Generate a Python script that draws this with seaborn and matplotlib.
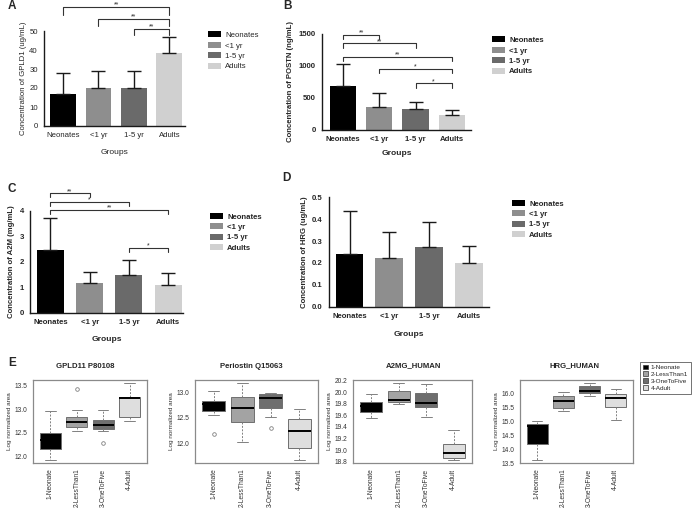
import numpy as np
import pandas as pd
import matplotlib
matplotlib.use('Agg')
import matplotlib.pyplot as plt
import seaborn as sns
from matplotlib.patches import Patch

# ---------------- data ----------------
groups = ['Neonates', '<1 yr', '1-5 yr', 'Adults']
bar_colors = ['#000000', '#8e8e8e', '#6a6a6a', '#d0d0d0']

gpld1_mean = [17.0, 20.0, 20.0, 38.2]
gpld1_sd = [10.7, 8.9, 9.0, 8.6]
postn_mean = [687, 354, 323, 230]
postn_sd = [339, 219, 109, 82]
a2m_mean = [2.47, 1.15, 1.47, 1.09]
a2m_sd = [1.26, 0.44, 0.61, 0.45]
hrg_mean = [0.243, 0.221, 0.271, 0.202]
hrg_sd = [0.196, 0.119, 0.118, 0.077]

box_labels = ['1-Neonate', '2-LessThan1', '3-OneToFive', '4-Adult']
box_colors = ['#000000', '#a3a3a3', '#6e6e6e', '#dedede']

gpld11_lo = [11.93, 12.55, 12.55, 12.76]
gpld11_q1 = [12.17, 12.63, 12.58, 12.84]
gpld11_med = [12.35, 12.72, 12.66, 13.23]
gpld11_q3 = [12.50, 12.84, 12.78, 13.25]
gpld11_hi = [12.96, 12.98, 12.98, 13.55]
gpld11_out = [[], [13.43], [12.29], []]

postn_lo = [12.56, 12.02, 12.51, 11.67]
postn_q1 = [12.64, 12.41, 12.69, 11.91]
postn_med = [12.76, 12.70, 12.89, 12.23]
postn_q3 = [12.83, 12.91, 12.96, 12.47]
postn_hi = [13.03, 13.18, 12.98, 12.67]
postn_out = [[12.17], [], [12.29], []]

a2mg_lo = [19.56, 19.80, 19.57, 18.83]
a2mg_q1 = [19.66, 19.84, 19.74, 18.86]
a2mg_med = [19.77, 19.87, 19.82, 18.95]
a2mg_q3 = [19.83, 20.02, 19.99, 19.10]
a2mg_hi = [19.97, 20.16, 20.14, 19.34]
a2mg_out = [[], [], [], []]

hrgh_lo = [13.62, 15.37, 15.90, 15.06]
hrgh_q1 = [14.17, 15.47, 16.02, 15.53]
hrgh_med = [14.85, 15.72, 16.10, 15.85]
hrgh_q3 = [14.90, 15.90, 16.28, 15.97]
hrgh_hi = [15.00, 16.06, 16.38, 16.16]
hrgh_out = [[], [], [], []]

# ---------------- figure ----------------
sns.set_style('white')
plt.rcParams['font.family'] = ['Liberation Sans', 'DejaVu Sans']
W, H = 696, 511
fig = plt.figure(figsize=(W / 100, H / 100), dpi=100)


def add_ax(l, r, t, b):
    return fig.add_axes([l / W, 1 - b / H, (r - l) / W, (b - t) / H])


FS = 5.6


def bar_panel(ax, means, sds, ylim, yticks, ylabel, xlim, width, bold, brackets, leg_xy,
              xlabelpad, ylabelpad):
    weight = 'bold' if bold else 'normal'
    df = pd.DataFrame({'group': groups, 'value': means})
    sns.barplot(data=df, x='group', y='value', hue='group', order=groups, hue_order=groups,
                palette=bar_colors, saturation=1, width=width, errorbar=None, legend=False,
                ax=ax, linewidth=0)
    ax.errorbar(np.arange(len(groups)), means, yerr=[np.zeros(len(groups)), sds], fmt='none',
                ecolor='#1a1a1a', elinewidth=1.0, capsize=5, capthick=1.0, zorder=3)
    ax.set_ylim(*ylim)
    ax.set_xlim(*xlim)
    ax.set_yticks(yticks)
    sns.despine(ax=ax)
    for s in ['left', 'bottom']:
        ax.spines[s].set_linewidth(1.0)
        ax.spines[s].set_color('#1a1a1a')
    ax.tick_params(axis='both', direction='out', length=3, width=0.9, color='#1a1a1a',
                   labelsize=FS, pad=1.5)
    for lab in ax.get_xticklabels() + ax.get_yticklabels():
        lab.set_fontweight(weight)
    ax.set_ylabel(ylabel, fontsize=FS, fontweight=weight, labelpad=ylabelpad)
    ax.set_xlabel('Groups', fontsize=FS + 0.5, fontweight=weight, labelpad=xlabelpad)
    for (x1, x2, y, drop, lab) in brackets:
        ax.plot([x1, x1, x2, x2], [y - drop, y, y, y - drop], color='#333333', lw=0.8,
                clip_on=False, zorder=4)
        ax.annotate(lab, xy=((x1 + x2) / 2, y), xytext=(0, -1.2), textcoords='offset points',
                    ha='center', va='bottom', fontsize=FS - 0.6, annotation_clip=False)
    handles = [Patch(facecolor=c, edgecolor='none') for c in bar_colors]
    fig.legend(handles, groups, loc='upper left', bbox_to_anchor=(leg_xy[0] / W, 1 - leg_xy[1] / H),
               frameon=False, prop={'size': FS, 'weight': weight}, handlelength=1.7,
               handleheight=0.8, handletextpad=0.5, labelspacing=0.35, borderpad=0,
               borderaxespad=0)


# Panel A
axA = add_ax(44, 185, 31, 126)
bar_panel(axA, gpld1_mean, gpld1_sd, (0, 50), [0, 10, 20, 30, 40, 50],
          'Concentration of GPLD1 (ug/mL)', (-0.535, 3.44), 0.73, False,
          [(0, 3, 62.6, 4.0, '**'), (1, 3, 56.3, 3.5, '**'), (2, 3, 51.2, 3.2, '**')],
          (208, 31.5), 7, 1.5)

# Panel B
axB = add_ax(322, 471, 34, 130)
bar_panel(axB, postn_mean, postn_sd, (0, 1500), [0, 500, 1000, 1500],
          'Concentration of POSTN (ng/mL)', (-0.58, 3.53), 0.72, True,
          [(0, 1, 1484, 67, '**'), (0, 2, 1354, 67, '**'), (0, 3, 1146, 67, '**'),
           (1, 3, 953, 67, '*'), (2, 3, 729, 75, '*')],
          (492, 36.5), 5, 3)

# Panel C
axC = add_ax(30, 183, 210.7, 312.7)
bar_panel(axC, a2m_mean, a2m_sd, (0, 4), [0, 1, 2, 3, 4],
          'Concentration of A2M (mg/mL)', (-0.52, 3.38), 0.69, True,
          [(0, 1, 4.68, 0.16, '**'), (0, 2, 4.35, 0.16, '*'), (0, 3, 4.03, 0.16, '**'),
           (2, 3, 2.53, 0.16, '*')],
          (210, 213), 7, 3)

# Panel D
axD = add_ax(329, 489, 197.3, 306.7)
bar_panel(axD, hrg_mean, hrg_sd, (0, 0.5), [0.0, 0.1, 0.2, 0.3, 0.4, 0.5],
          'Concentration of HRG (ug/mL)', (-0.515, 3.5), 0.70, True, [],
          (512, 200), 8, 3)
axD.yaxis.set_major_formatter(matplotlib.ticker.FormatStrFormatter('%.1f'))
for lab in axD.get_yticklabels():
    lab.set_fontweight('bold')


# Panel E
def r_ylim(lo, hi, out):
    vals = list(lo) + list(hi) + [v for o in out for v in o]
    mn, mx = min(vals), max(vals)
    ext = 0.04 * (mx - mn)
    return mn - ext, mx + ext


def box_panel(ax, lo, q1, med, q3, hi, out, yticks, fmt, title, tx):
    stats = [dict(whislo=lo[i], q1=q1[i], med=med[i], q3=q3[i], whishi=hi[i],
                  fliers=out[i], label=box_labels[i]) for i in range(4)]
    res = ax.bxp(stats, positions=[1, 2, 3, 4], widths=0.8, capwidths=0.4, patch_artist=True,
                 showfliers=True,
                 boxprops=dict(edgecolor='#6f6f6f', linewidth=0.7),
                 whiskerprops=dict(color='#808080', linestyle=(0, (2.0, 1.5)), linewidth=0.7),
                 capprops=dict(color='#808080', linewidth=0.7),
                 medianprops=dict(color='black', linewidth=1.4),
                 flierprops=dict(marker='o', markerfacecolor='none', markeredgecolor='#808080',
                                 markersize=2.6, markeredgewidth=0.6))
    for patch, c in zip(res['boxes'], box_colors):
        patch.set_facecolor(c)
    ax.set_xlim(0.34, 4.66)
    ax.set_ylim(*r_ylim(lo, hi, out))
    ax.set_yticks(yticks)
    ax.yaxis.set_major_formatter(matplotlib.ticker.FormatStrFormatter(fmt))
    ax.set_xticks([1, 2, 3, 4])
    ax.set_xticklabels(box_labels, rotation=90)
    ax.tick_params(axis='both', direction='out', length=2.5, width=0.6, color='#555555',
                   labelsize=4.8, pad=1.5, labelcolor='#333333')
    for s in ax.spines.values():
        s.set_visible(True)
        s.set_color('#8a8a8a')
        s.set_linewidth(0.9)
    ax.set_ylabel('Log normalized area', fontsize=4.6, color='#333333', labelpad=2)
    fig.text(tx / W, 1 - 366 / H, title, ha='center', va='center', fontsize=5.6,
             fontweight='bold')


axE1 = add_ax(33, 147, 380, 463)
box_panel(axE1, gpld11_lo, gpld11_q1, gpld11_med, gpld11_q3, gpld11_hi, gpld11_out,
          [12.0, 12.5, 13.0, 13.5], '%.1f', 'GPLD11 P80108', 85)
axE2 = add_ax(195, 318, 380, 463)
box_panel(axE2, postn_lo, postn_q1, postn_med, postn_q3, postn_hi, postn_out,
          [12.0, 12.5, 13.0], '%.1f', 'Periostin Q15063', 251)
axE3 = add_ax(353, 472, 380, 463)
box_panel(axE3, a2mg_lo, a2mg_q1, a2mg_med, a2mg_q3, a2mg_hi, a2mg_out,
          [18.8, 19.0, 19.2, 19.4, 19.6, 19.8, 20.0, 20.2], '%.1f', 'A2MG_HUMAN', 414)
axE4 = add_ax(520, 633, 380, 463)
box_panel(axE4, hrgh_lo, hrgh_q1, hrgh_med, hrgh_q3, hrgh_hi, hrgh_out,
          [13.5, 14.0, 14.5, 15.0, 15.5, 16.0], '%.1f', 'HRG_HUMAN', 574)

e_handles = [Patch(facecolor=c, edgecolor='#333333', linewidth=0.5) for c in box_colors]
fig.legend(e_handles, box_labels, loc='upper left', bbox_to_anchor=(640 / W, 1 - 362 / H),
           frameon=True, fancybox=False, edgecolor='#333333', prop={'size': 4.6},
           handlelength=0.8, handleheight=0.8, handletextpad=0.5, labelspacing=0.2,
           borderpad=0.4, borderaxespad=0).get_frame().set_linewidth(0.6)

# panel letters
for letter, (x, y) in {'A': (8, 6), 'B': (283, 6), 'C': (8, 189), 'D': (282, 178),
                       'E': (8, 363)}.items():
    fig.text(x / W, 1 - y / H, letter, ha='left', va='center', fontsize=8.5, fontweight='bold')

fig.savefig('out.png', dpi=100)
